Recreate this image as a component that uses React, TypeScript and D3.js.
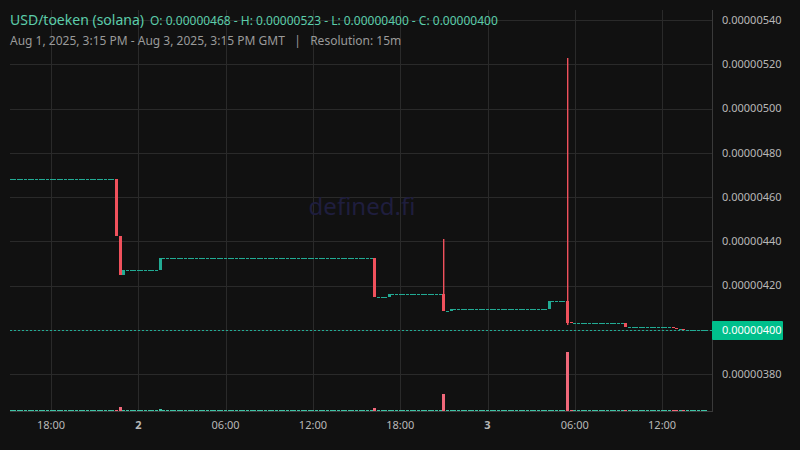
import * as d3 from 'd3'

// 15m candles, prices in units of 1e-8
const startTime = '2025-08-01T15:15:00Z'
const endTime = '2025-08-03T15:15:00Z'
const barCount = 192

// candles that move; all other candles are flat at the previous close
const moveTimes = [
  '2025-08-01T22:30:00Z', '2025-08-01T22:45:00Z', '2025-08-01T23:00:00Z',
  '2025-08-02T01:30:00Z', '2025-08-02T16:15:00Z', '2025-08-02T17:15:00Z',
  '2025-08-02T21:00:00Z', '2025-08-02T21:30:00Z', '2025-08-03T04:15:00Z',
  '2025-08-03T05:30:00Z', '2025-08-03T05:45:00Z', '2025-08-03T09:30:00Z',
  '2025-08-03T12:45:00Z', '2025-08-03T13:00:00Z', '2025-08-03T13:30:00Z',
]
const moveOpen = [468, 442.2, 424.9, 427.1, 432.5, 414.6, 416.3, 408.3, 409.2, 413.1, 403.3, 403.0, 401.3, 400.8, 400.4]
const moveHigh = [468, 442.2, 427.1, 432.5, 432.5, 416.3, 441.1, 409.2, 413.1, 523, 403.3, 403.0, 401.3, 400.8, 400.4]
const moveLow = [442.2, 424.9, 424.9, 427.1, 414.6, 414.6, 408.3, 408.3, 409.2, 402.3, 403.0, 401.3, 400.8, 400.4, 400]
const moveClose = [442.2, 424.9, 427.1, 432.5, 414.6, 416.3, 408.3, 409.2, 413.1, 403.0, 403.0, 401.3, 400.8, 400.4, 400]
const moveVolume = [1.5, 7, 0.5, 3, 5, 0.5, 29, 0.5, 0.5, 100, 0.5, 2.5, 2.5, 1, 0.8]
const firstOpen = 468

const priceTicks = [380, 400, 420, 440, 460, 480, 500, 520, 540]
const timeTicks = [
  { t: '2025-08-01T18:00:00Z', label: '18:00', day: false },
  { t: '2025-08-02T00:00:00Z', label: '2', day: true },
  { t: '2025-08-02T06:00:00Z', label: '06:00', day: false },
  { t: '2025-08-02T12:00:00Z', label: '12:00', day: false },
  { t: '2025-08-02T18:00:00Z', label: '18:00', day: false },
  { t: '2025-08-03T00:00:00Z', label: '3', day: true },
  { t: '2025-08-03T06:00:00Z', label: '06:00', day: false },
  { t: '2025-08-03T12:00:00Z', label: '12:00', day: false },
]

const UP = '#22ab94'
const DOWN = '#f0515c'
const VOL_UP = '#3fc4a6'
const VOL_DOWN = '#f0687a'
const GRID = '#2a2a2a'
const AXIS_TEXT = '#b8b8b8'
const FONT = '"Noto Sans", "Open Sans", sans-serif'

interface Bar { t: Date; o: number; h: number; l: number; c: number; v: number }

function buildBars(): Bar[] {
  const moves = new Map(moveTimes.map((t, i) => [new Date(t).getTime(), i]))
  const bars: Bar[] = []
  let last = firstOpen
  const t0 = new Date(startTime).getTime()
  for (let i = 0; i < barCount; i++) {
    const t = t0 + i * 15 * 60 * 1000
    const k = moves.get(t)
    if (k !== undefined) {
      bars.push({ t: new Date(t), o: moveOpen[k], h: moveHigh[k], l: moveLow[k], c: moveClose[k], v: moveVolume[k] })
      last = moveClose[k]
    } else {
      bars.push({ t: new Date(t), o: last, h: last, l: last, c: last, v: 0 })
    }
  }
  return bars
}

const fmt = (v: number) => (v / 1e8).toFixed(8)

export default function App() {
  const W = 800
  const H = 450
  const plot = { left: 10, right: 712, top: 10, bottom: 411 }
  const bars = buildBars()

  const x = d3.scaleUtc()
    .domain([new Date(startTime), new Date(endTime)])
    .range([11, 709.4])
  const y = d3.scaleLinear().domain([380, 540]).range([374, 20])
  const vol = d3.scaleLinear().domain([0, 100]).range([0, 59])

  const bodyW = 3
  const O = bars[0].o
  const Hh = d3.max(bars, d => d.h) ?? 0
  const L = d3.min(bars, d => d.l) ?? 0
  const C = bars[bars.length - 1].c
  const lastY = Math.round(y(C)) + 0.5

  return (
    <svg width={W} height={H} style={{ position: 'absolute', left: 0, top: 0 }} fontFamily={FONT}>
      <defs>
        <clipPath id="plot">
          <rect x={plot.left} y={plot.top} width={plot.right - plot.left} height={plot.bottom - plot.top} />
        </clipPath>
      </defs>
      <rect width={W} height={H} fill="#111111" />

      {/* grid */}
      <g stroke={GRID} strokeWidth={1}>
        {priceTicks.map(p => (
          <line key={p} x1={plot.left} x2={plot.right} y1={Math.round(y(p)) + 0.5} y2={Math.round(y(p)) + 0.5} />
        ))}
        {timeTicks.map(d => {
          const xx = Math.round(x(new Date(d.t))) + 0.5
          return <line key={d.t} x1={xx} x2={xx} y1={plot.top} y2={plot.bottom} />
        })}
      </g>

      {/* watermark */}
      <text x={362} y={215} textAnchor="middle" fontSize={24} fill="#1f1e3e">defined.fi</text>

      <g clipPath="url(#plot)">
        {/* volume */}
        {bars.map((d, i) => {
          const h = Math.max(1, Math.round(vol(d.v)))
          return (
            <rect key={'v' + i} x={Math.round(x(d.t) - bodyW / 2)} y={plot.bottom - h} width={bodyW} height={h}
              fill={d.c < d.o ? VOL_DOWN : VOL_UP} />
          )
        })}
        {/* last price line */}
        <line x1={plot.left} x2={plot.right} y1={lastY} y2={lastY} stroke={UP} strokeDasharray="2 2" />
        {/* candles */}
        {bars.map((d, i) => {
          const color = d.c < d.o ? DOWN : UP
          const cx = x(d.t)
          const left = Math.round(cx - bodyW / 2)
          const top = Math.round(y(Math.max(d.o, d.c)))
          const bh = Math.max(1, Math.round(y(Math.min(d.o, d.c))) - top)
          return (
            <g key={'c' + i} fill={color}>
              {d.h > d.l && (
                <rect x={left + 1} y={Math.round(y(d.h))} width={1.4}
                  height={Math.max(1, Math.round(y(d.l)) - Math.round(y(d.h)))} />
              )}
              <rect x={left} y={top} width={bodyW} height={bh} />
            </g>
          )
        })}
      </g>

      {/* axes borders */}
      <line x1={plot.left} x2={plot.right + 1} y1={plot.bottom + 0.5} y2={plot.bottom + 0.5} stroke="#3a3a3a" />
      <line x1={plot.right + 0.5} x2={plot.right + 0.5} y1={plot.top} y2={plot.bottom + 1} stroke="#3a3a3a" />

      {/* price axis labels */}
      {priceTicks.map(p => (
        <text key={p} x={722} y={y(p)} dy="0.35em" fontSize={11} fill={AXIS_TEXT}>{fmt(p)}</text>
      ))}
      <rect x={712} y={lastY - 9.5} width={71} height={19} rx={1} fill="#00bf8c" />
      <text x={722} y={lastY} dy="0.35em" fontSize={11} fill="#ffffff">{fmt(C)}</text>

      {/* time axis labels */}
      {timeTicks.map(d => (
        <text key={d.t} x={x(new Date(d.t))} y={425} dy="0.35em" textAnchor="middle" fontSize={11}
          fontWeight={d.day ? 700 : 400} fill={AXIS_TEXT}>{d.label}</text>
      ))}

      {/* header */}
      <text x={10} y={25} fontSize={14} fill="#5ccdab">USD/toeken (solana)</text>
      <text x={150} y={25} fontSize={12} fill="#5ccdab">
        {`O: ${fmt(O)} - H: ${fmt(Hh)} - L: ${fmt(L)} - C: ${fmt(C)}`}
      </text>
      <text x={10} y={45} fontSize={12} fill="#9a9a9a" xmlSpace="preserve">
        {'Aug 1, 2025, 3:15 PM - Aug 3, 2025, 3:15 PM GMT   |   Resolution: 15m'}
      </text>
    </svg>
  )
}
